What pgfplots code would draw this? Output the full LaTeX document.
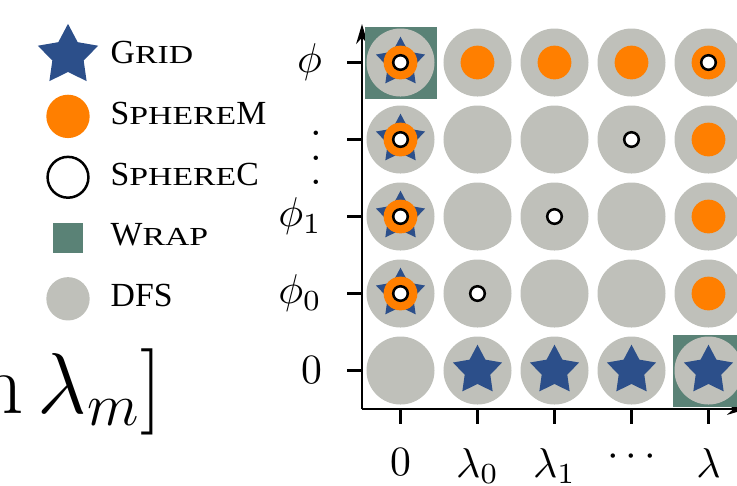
\documentclass[border=0pt]{standalone}
\usepackage{fontspec}
\usepackage{graphicx}
\usepackage{pgfplots}
\pgfplotsset{compat=1.18}
\usetikzlibrary{arrows.meta}
\newfontfamily\legfont{Liberation Serif}
\newcommand\fsc[1]{\scalebox{1}[0.77]{#1}}
\newcommand\bigvdots{\hbox{\rule{0pt}{21.46pt}\vbox{\baselineskip5.8pt\lineskiplimit0pt\hbox{.}\hbox{.}\hbox{.}}}}
\definecolor{gridblue}{RGB}{44,79,138}
\definecolor{sphorange}{RGB}{255,127,0}
\definecolor{dfsgray}{RGB}{191,192,186}
\definecolor{wrapgreen}{RGB}{90,130,118}
\pgfdeclareplotmark{fstar}{%
  \pgfpathmoveto{\pgfpointpolar{90}{\pgfplotmarksize}}%
  \pgfpathlineto{\pgfpointpolar{126}{0.52\pgfplotmarksize}}%
  \pgfpathlineto{\pgfpointpolar{162}{\pgfplotmarksize}}%
  \pgfpathlineto{\pgfpointpolar{198}{0.52\pgfplotmarksize}}%
  \pgfpathlineto{\pgfpointpolar{234}{\pgfplotmarksize}}%
  \pgfpathlineto{\pgfpointpolar{270}{0.52\pgfplotmarksize}}%
  \pgfpathlineto{\pgfpointpolar{306}{\pgfplotmarksize}}%
  \pgfpathlineto{\pgfpointpolar{342}{0.52\pgfplotmarksize}}%
  \pgfpathlineto{\pgfpointpolar{18}{\pgfplotmarksize}}%
  \pgfpathlineto{\pgfpointpolar{54}{0.52\pgfplotmarksize}}%
  \pgfpathclose
  \pgfusepathqfill
}
\begin{document}
\begin{tikzpicture}
\begin{scope}
\clip (0,0) rectangle (176.88pt,116.4pt);
\begin{axis}[
  at={(86.88pt,18.24pt)}, anchor=south west,
  scale only axis, width=92.4pt, height=92.4pt,
  xmin=-0.5, xmax=4.5, ymin=-0.5, ymax=4.5,
  axis lines=left,
  axis line style={line width=0.6pt, black},
  every outer x axis line/.append style={-{Stealth[length=4.8pt,width=2.8pt]}},
  every outer y axis line/.append style={-{Stealth[length=4.8pt,width=2.8pt]}},
  tick align=outside, major tick length=3.5pt,
  tick style={line width=0.6pt, black},
  xtick={0,1,2,3,4}, ytick={0,1,2,3,4},
  xticklabels={$0$,$\lambda_0$,$\lambda_1$,$\cdots$,$\lambda$},
  yticklabels={$0$,$\phi_0$,$\phi_1$,\bigvdots,$\phi$},
  xticklabel style={yshift=-2.4pt},
  yticklabel style={xshift=-2.6pt},
  clip=false,
  legend image code/.code={%
    \path[draw=none, fill=none] (0cm,-3pt) rectangle (0.6cm,3pt);
    \begin{pgfinterruptboundingbox}
    \path[#1] plot coordinates {(0.3cm,0cm)};
    \end{pgfinterruptboundingbox}},
  legend style={draw=none, fill=none, inner sep=0pt, outer sep=0pt,
    at={(-0.856,0.977)}, anchor=north west,
    font=\legfont\fontsize{8.1}{10}\selectfont, row sep=3.75pt, column sep=-0.3pt,
    legend cell align=left},
]
\addlegendimage{only marks, mark=fstar, mark size=7.6pt, mark options={fill=gridblue, draw=none}}
\addlegendentry{G\fsc{RID}}
\addlegendimage{only marks, mark=*, mark size=5.0pt, color=sphorange}
\addlegendentry{S\fsc{PHERE}M}
\addlegendimage{only marks, mark=*, mark size=4.9pt, mark options={fill=white, draw=black, line width=0.6pt}}
\addlegendentry{S\fsc{PHERE}C}
\addlegendimage{only marks, mark=square*, mark size=3.4pt, color=wrapgreen}
\addlegendentry{W\fsc{RAP}}
\addlegendimage{only marks, mark=*, mark size=5.0pt, color=dfsgray}
\addlegendentry{DFS}
% Wrap
\addplot[forget plot, only marks, mark=square*, mark size=8.44pt, color=wrapgreen]
  coordinates {(0,4) (4,0)};
% DFS
\addplot[forget plot, only marks, mark=*, mark size=7.96pt, color=dfsgray]
  coordinates {(0,0) (1,0) (2,0) (3,0) (4,0)
               (0,1) (1,1) (2,1) (3,1) (4,1)
               (0,2) (1,2) (2,2) (3,2) (4,2)
               (0,3) (1,3) (2,3) (3,3) (4,3)
               (0,4) (1,4) (2,4) (3,4) (4,4)};
% Grid
\addplot[forget plot, only marks, mark=fstar, mark size=6.2pt, mark options={fill=gridblue, draw=none}]
  coordinates {(0,1) (0,2) (0,3) (0,4) (1,0) (2,0) (3,0) (4,0)};
% SphereM
\addplot[forget plot, only marks, mark=*, mark size=3.85pt, color=sphorange]
  coordinates {(0,1) (0,2) (0,3) (0,4) (4,4) (1,4) (2,4) (3,4) (4,3) (4,2) (4,1)};
% SphereC
\addplot[forget plot, only marks, mark=*, mark size=1.75pt, mark options={fill=white, draw=black, line width=0.6pt}]
  coordinates {(0,1) (0,2) (0,3) (0,4) (4,4) (1,1) (2,2) (3,3)};
\end{axis}
\node[anchor=base east, inner sep=0pt, font=\fontsize{20.74}{24}\selectfont] at (39.12pt,17.28pt) {$\min\lambda_m]$};
\end{scope}
\pgfresetboundingbox
\path[use as bounding box] (0,0) rectangle (176.88pt,116.4pt);
\end{tikzpicture}
\end{document}
